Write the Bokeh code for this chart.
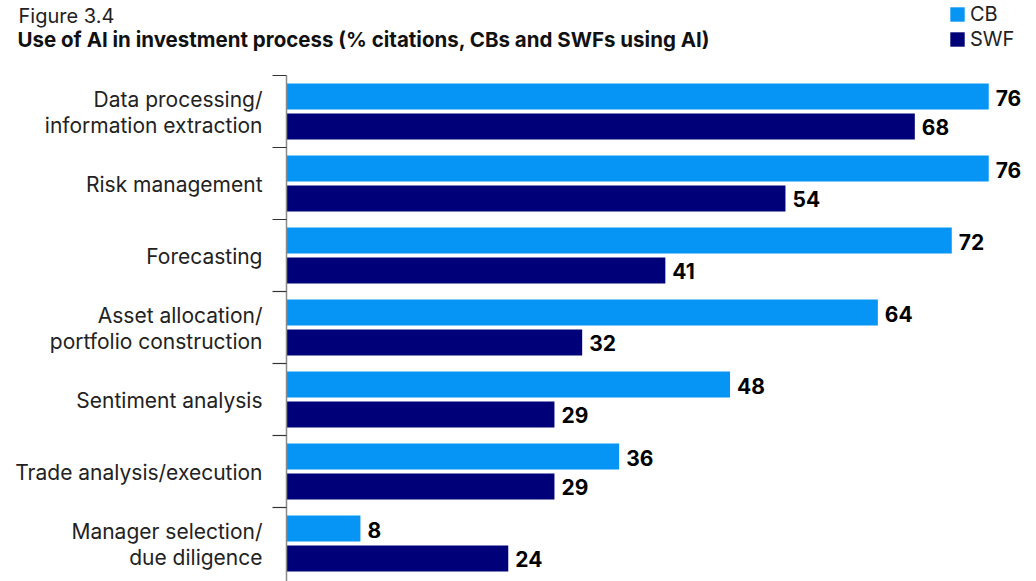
from bokeh.plotting import figure
from bokeh.models import Range1d, Legend, LegendItem, ColumnDataSource, Label
from bokeh.core.properties import value
from bokeh.embed import file_html
from bokeh.resources import INLINE

categories = ["Data processing/\ninformation extraction", "Risk management",
              "Forecasting", "Asset allocation/\nportfolio construction",
              "Sentiment analysis", "Trade analysis/execution",
              "Manager selection/\ndue diligence"]
cb_values = [76, 76, 72, 64, 48, 36, 8]
swf_values = [68, 54, 41, 32, 29, 29, 24]
series_names = ["CB", "SWF"]
fig_label = "Figure 3.4"
title_text = "Use of AI in investment process (% citations, CBs and SWFs using AI)"

FONT = "Inter"
CB_COLOR = "#0795f5"
SWF_COLOR = "#000078"

W, H = 1036, 581
AX_X, TOP = 286, 75      # pixel position of the axis and of the first band top
XS, YS = 9.24, 72.0      # px per unit, px per category band

p = figure(width=W, height=H, output_backend="svg", toolbar_location=None,
           x_range=Range1d(-AX_X / XS, (W - AX_X) / XS),
           y_range=Range1d((H - TOP) / YS, -TOP / YS),
           min_border=0, outline_line_color=None,
           background_fill_color="white", border_fill_color="white")
p.xaxis.visible = False
p.yaxis.visible = False
p.grid.visible = False

def dx(px):
    return (px - AX_X) / XS

def dy(py):
    return (py - TOP) / YS

n = len(categories)
src = ColumnDataSource(dict(
    cb_y=[i + 0.2917 for i in range(n)],
    swf_y=[i + 0.7083 for i in range(n)],
    cb=cb_values, swf=swf_values,
    cb_txt=[str(v) for v in cb_values],
    swf_txt=[str(v) for v in swf_values]))

bh = 26 / YS
r_cb = p.hbar(y="cb_y", right="cb", left=0, height=bh, source=src,
              fill_color=CB_COLOR, line_color=None)
r_swf = p.hbar(y="swf_y", right="swf", left=0, height=bh, source=src,
               fill_color=SWF_COLOR, line_color=None)

for ycol, tcol, xcol in [("cb_y", "cb_txt", "cb"), ("swf_y", "swf_txt", "swf")]:
    p.text(x=xcol, y=ycol, text=tcol, source=src, x_offset=7, y_offset=1,
           text_font=value(FONT), text_font_size="21px",
           text_font_style="bold", text_color="#000000",
           text_baseline="middle", text_align="left")

# category axis: line, band ticks, labels
bounds = [float(i) for i in range(n)]
p.segment(x0=0, x1=0, y0=0, y1=dy(H + 5), line_color="#8a8a8a", line_width=1.5)
p.segment(x0=[dx(272)] * n, x1=[0] * n, y0=bounds, y1=bounds,
          line_color="#333333", line_width=1.2)
p.text(x=[dx(262)] * n, y=[i + 0.5 for i in range(n)], text=categories,
       text_font=value(FONT), text_font_size="21px", text_color="#222222",
       text_align="right", text_baseline="middle", text_line_height=1.07,
       y_offset=1)

# titles
p.add_layout(Label(x=dx(18), y=dy(15), text=fig_label, text_font=FONT,
                   text_font_size="20px", text_color="#222222",
                   text_baseline="alphabetic", text_align="left"))
p.add_layout(Label(x=dx(17), y=dy(39), text=title_text, text_font=FONT,
                   text_font_size="20.5px", text_font_style="bold",
                   text_color="#111111", text_baseline="alphabetic",
                   text_align="left"))

legend = Legend(items=[LegendItem(label=series_names[0], renderers=[r_cb]),
                       LegendItem(label=series_names[1], renderers=[r_swf])],
                location=(948, H - 51),
                glyph_width=18, glyph_height=18, label_height=18,
                spacing=1, padding=0, margin=0, label_standoff=4,
                label_text_font=FONT, label_text_font_size="20px",
                label_text_color="#222222",
                background_fill_alpha=0, border_line_color=None)
p.add_layout(legend, "center")

open("out.html", "w").write(file_html(p, INLINE))
